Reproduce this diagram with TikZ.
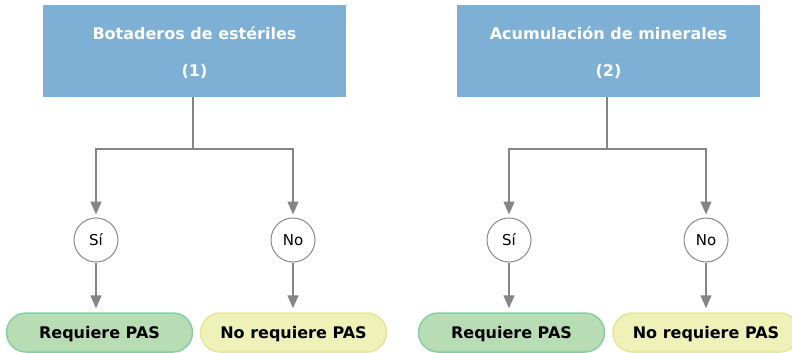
\documentclass[tikz,border=0pt]{standalone}
\usepackage{fontspec}
\setmainfont{DejaVu Sans}
\usetikzlibrary{arrows.meta}
\definecolor{boxblue}{HTML}{7EB0D5}
\definecolor{lngray}{HTML}{858585}
\definecolor{circgray}{HTML}{8A8A8A}
\definecolor{greenfill}{HTML}{B8DDB5}
\definecolor{greenline}{HTML}{86CFA3}
\definecolor{yelfill}{HTML}{EEF2B8}
\definecolor{yelline}{HTML}{E6E59A}
\tikzset{
  titlebox/.style={fill=boxblue, minimum width=303pt, minimum height=92pt, inner sep=0pt},
  titletext/.style={text=white, font=\fontsize{16}{18}\selectfont\bfseries, anchor=base, inner sep=0pt},
  answer/.style={circle, draw=circgray, line width=1pt, fill=white, minimum size=44pt,
    inner sep=0pt, text height=10.9pt, text depth=0pt, font=\fontsize{15}{18}\selectfont},
  pill/.style={rounded corners=19.5pt, line width=1.5pt, minimum width=186pt,
    minimum height=39pt, inner sep=0pt, text height=11.7pt, text depth=0pt,
    font=\fontsize{16}{18}\selectfont\bfseries},
  reqpill/.style={pill, fill=greenfill, draw=greenline},
  noreqpill/.style={pill, fill=yelfill, draw=yelline},
  conn/.style={draw=lngray, line width=1.5pt},
  arr/.style={conn, -{Triangle[width=11pt,length=13pt,fill=lngray]}}
}
\begin{document}
\begin{tikzpicture}[x=1pt,y=-1pt]
\useasboundingbox (0,0) rectangle (792,353);
\node[titlebox] (t1) at (194.5,51) {};
\node[titlebox] (t2) at (608.5,51) {};
\node[titletext] (t1a) at (194.5,40) {Botaderos de estériles};
\node[titletext] (t1b) at (194.5,76) {(1)};
\node[titletext] (t2a) at (608.5,40) {Acumulación de minerales};
\node[titletext] (t2b) at (608.5,76) {(2)};
\coordinate (j1) at (193,149);
\coordinate (j2) at (607,149);
\node[answer] (si1) at (96,240) {Sí};
\node[answer] (no1) at (293,240) {No};
\node[answer] (si2) at (509,240) {Sí};
\node[answer] (no2) at (706,240) {No};
\node[reqpill] (r1) at (99.5,332.5) {Requiere PAS};
\node[noreqpill] (n1) at (293.5,332.5) {No requiere PAS};
\node[reqpill] (r2) at (511.5,332.5) {Requiere PAS};
\node[noreqpill] (n2) at (706,332.5) {No requiere PAS};
\draw[conn] (t1.south -| j1) -- (j1);
\draw[conn] (t2.south -| j2) -- (j2);
\draw[arr, shorten >=3pt] (j1) -| (si1);
\draw[arr, shorten >=3pt] (j1) -| (no1);
\draw[arr, shorten >=3pt] (j2) -| (si2);
\draw[arr, shorten >=3pt] (j2) -| (no2);
\draw[arr, shorten >=4pt] (si1) -- (si1 |- r1.north);
\draw[arr, shorten >=4pt] (no1) -- (no1 |- n1.north);
\draw[arr, shorten >=4pt] (si2) -- (si2 |- r2.north);
\draw[arr, shorten >=4pt] (no2) -- (no2 |- n2.north);
\end{tikzpicture}
\end{document}
